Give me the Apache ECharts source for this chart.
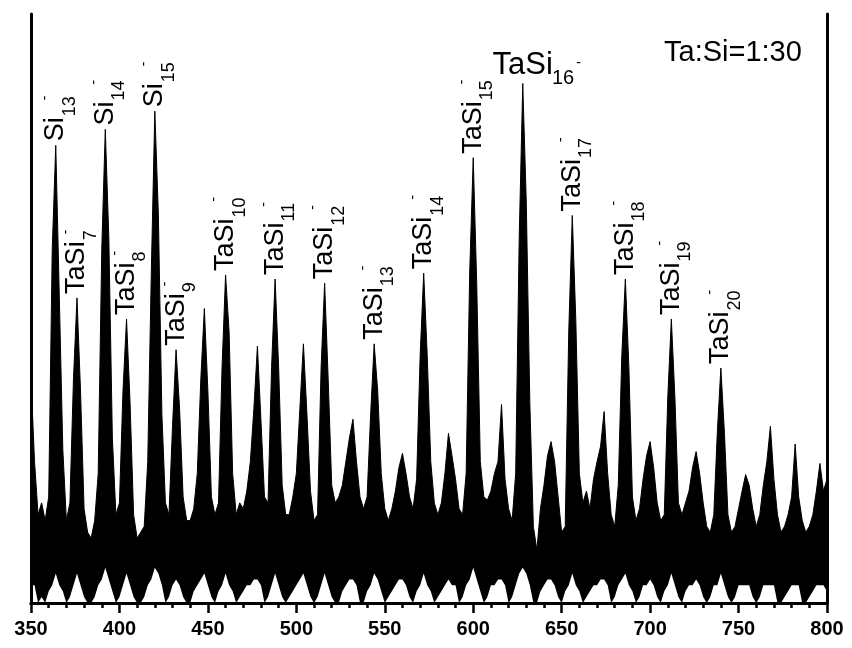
<!DOCTYPE html>
<html>
<head>
<meta charset="utf-8">
<script src="https://cdn.jsdelivr.net/npm/echarts@6/dist/echarts.min.js"></script>
<style>
html, body { margin: 0; padding: 0; background: #fff; }
#main { width: 852px; height: 648px; }
</style>
</head>
<body>
<div id="main"></div>
<script>
// mass axis: one sample every 2 units starting at 350
var massStart = 350;
var massStep = 2;

// upper edge of the noisy trace (intensity, 0-100)
var upper = [
  38, 24, 15, 17, 14, 18, 60, 77.7, 52, 26,
  14, 17, 38, 51.8, 36, 16, 12, 11, 14, 22,
  60, 80.4, 62, 28, 15, 17, 36, 48.2, 34, 15,
  11, 12, 13, 24, 56, 83.5, 66, 32, 17, 15,
  30, 43, 33, 18, 14, 14, 16, 22, 38, 50,
  36, 18, 15, 17, 40, 55.7, 46, 22, 15, 17,
  16, 19, 24, 33, 43.6, 31, 18, 17, 40, 55,
  40, 20, 15, 15, 18, 22, 33, 44, 32, 19,
  14, 15, 40, 54.3, 38, 20, 17, 18, 20, 24,
  28, 31.2, 24, 18, 16, 18, 32, 44, 36, 22,
  16, 14, 16, 19, 23, 25.4, 22, 18, 16, 21,
  42, 56, 42, 24, 17, 15, 17, 22, 28.8, 25,
  21, 16, 15, 22, 56, 75.6, 54, 24, 18, 17.5,
  19, 22, 24, 33.7, 21, 16, 14, 22, 62, 88.2,
  68, 34, 13, 9, 16, 20, 25, 27.4, 24, 18,
  12, 13, 46, 65.8, 48, 22, 17, 19, 16, 21,
  24, 26.6, 32.5, 22, 15, 13, 20, 42, 55, 40,
  18, 14, 16, 21, 25, 27.4, 23, 17, 14, 15,
  35, 48.2, 35, 17, 15, 17, 19, 23, 25.7, 22,
  17, 13, 12, 15, 29, 39.9, 29, 15, 12, 13,
  16, 19, 21.8, 20, 16, 13, 15, 20, 24, 30,
  21, 15, 12, 13, 15, 18, 27, 18, 14, 12,
  13, 15, 19, 23.7, 19, 21
];

// lower edge of the noisy trace
var lower = [
  3, 3, 0, 1, 0, 2, 3, 5, 3, 2,
  0, 1, 3, 5, 3, 1, 0, 0, 1, 3,
  4, 6, 4, 2, 0, 1, 3, 5, 3, 1,
  0, 0, 1, 3, 4, 6, 5, 3, 0, 1,
  3, 4, 3, 1, 0, 0, 2, 3, 4, 5,
  3, 1, 0, 2, 3, 5, 3, 2, 0, 1,
  2, 3, 3, 4, 4, 3, 0, 1, 3, 5,
  3, 1, 0, 1, 2, 3, 4, 5, 3, 1,
  0, 1, 3, 5, 3, 1, 0, 0, 2, 3,
  4, 4, 3, 0, 0, 2, 3, 5, 4, 2,
  0, 1, 2, 3, 4, 4, 3, 1, 0, 2,
  3, 5, 3, 2, 0, 1, 2, 3, 4, 3,
  3, 0, 1, 3, 4, 6, 4, 2, 0, 1,
  3, 3, 4, 4, 3, 0, 1, 3, 5, 6,
  5, 3, 0, 0, 2, 3, 4, 4, 3, 1,
  0, 2, 3, 5, 3, 2, 0, 1, 2, 3,
  3, 4, 4, 3, 0, 1, 3, 4, 5, 3,
  2, 0, 1, 3, 3, 4, 3, 1, 0, 2,
  3, 5, 3, 1, 0, 2, 3, 3, 4, 3,
  1, 0, 1, 3, 3, 5, 3, 1, 0, 1,
  3, 3, 3, 3, 1, 0, 1, 3, 3, 3,
  3, 0, 0, 1, 2, 3, 3, 3, 0, 0,
  1, 2, 3, 3, 3, 2
];

// peak labels
var labelMass = [364, 376, 392, 404, 420, 432, 460, 488, 516, 544, 572, 600, 628, 656, 686, 712, 740];
var labelMain = ['Si', 'TaSi', 'Si', 'TaSi', 'Si', 'TaSi', 'TaSi', 'TaSi', 'TaSi', 'TaSi', 'TaSi', 'TaSi', 'TaSi', 'TaSi', 'TaSi', 'TaSi', 'TaSi'];
var labelSub = ['13', '7', '14', '8', '15', '9', '10', '11', '12', '13', '14', '15', '16', '17', '18', '19', '20'];
var labelFlat = [628];
var ratioText = 'Ta:Si=1:30';

var FONT = '"Liberation Sans", Arial, sans-serif';

var upperData = [], lowerData = [];
for (var i = 0; i < upper.length; i++) {
  var m = massStart + i * massStep;
  upperData.push([m, upper[i]]);
  lowerData.push([m, lower[i]]);
}

var chart = echarts.init(document.getElementById('main'));

var frameLine = { color: '#000', width: 3 };

var option = {
  animation: false,
  grid: { left: 31, right: 25, top: 14, bottom: 45 },
  xAxis: [
    {
      type: 'value', min: 350, max: 800, interval: 50, z: 10,
      axisLine: { lineStyle: frameLine },
      axisTick: { length: 10, lineStyle: { color: '#000', width: 2.5 } },
      minorTick: { show: true, splitNumber: 5, length: 5, lineStyle: { color: '#000', width: 2.5 } },
      axisLabel: { color: '#000', fontSize: 20, fontWeight: 'bold', fontFamily: FONT, margin: 16 },
      splitLine: { show: false }
    },
    {
      type: 'value', position: 'top', min: 350, max: 800, interval: 50, z: 10,
      axisLine: { lineStyle: frameLine },
      axisTick: { inside: true, length: 3, lineStyle: { color: '#000', width: 1 } },
      minorTick: { show: true, splitNumber: 5, length: 3, lineStyle: { color: '#000', width: 1 } },
      axisLabel: { show: false },
      splitLine: { show: false }
    }
  ],
  yAxis: [
    {
      type: 'value', min: 0, max: 100, z: 10,
      axisLine: { show: true, lineStyle: frameLine },
      axisTick: { show: false }, axisLabel: { show: false }, splitLine: { show: false }
    },
    {
      type: 'value', position: 'right', min: 0, max: 100, z: 10,
      axisLine: { show: true, lineStyle: frameLine },
      axisTick: { show: false }, axisLabel: { show: false }, splitLine: { show: false }
    }
  ],
  series: [
    {
      // black body of the trace, down to the baseline
      type: 'line', data: upperData, z: 2,
      symbol: 'none', silent: true,
      lineStyle: { color: '#000', width: 1 },
      areaStyle: { color: '#000', opacity: 1 }
    },
    {
      // white gaps under the trace
      type: 'line', data: lowerData, z: 3,
      symbol: 'none', silent: true,
      lineStyle: { width: 0, opacity: 0 },
      areaStyle: { color: '#fff', opacity: 1 }
    }
  ]
};
chart.setOption(option);

// text widths for laying out subscripts
var ctx = document.createElement('canvas').getContext('2d');
function textWidth(s, size) {
  ctx.font = size + 'px ' + FONT;
  return ctx.measureText(s).width;
}

function txt(s, x, y, size, align) {
  return {
    type: 'text', x: x, y: y, silent: true, z: 100,
    style: {
      text: s, fill: '#000', font: size + 'px ' + FONT,
      textAlign: align || 'left', textVerticalAlign: 'middle'
    }
  };
}

var MAIN = 27, SUB = 18, FLAT = 31, FLAT_SUB = 20;
var graphics = [];
labelMass.forEach(function (m, k) {
  var v = upper[(m - massStart) / massStep];
  var p = chart.convertToPixel({ seriesIndex: 0 }, [m, v]);
  if (labelFlat.indexOf(m) >= 0) {
    var fw = textWidth(labelMain[k], FLAT);
    var fs = textWidth(labelSub[k], FLAT_SUB);
    graphics.push({
      type: 'group', x: p[0], y: p[1] - 6, z: 100,
      children: [
        txt(labelMain[k], -fw / 2, -12, FLAT),
        txt(labelSub[k], fw / 2 - 1, 1, FLAT_SUB),
        txt('-', fw / 2 + fs + 1, -14, 14)
      ]
    });
  } else {
    var mw = textWidth(labelMain[k], MAIN);
    var sw = textWidth(labelSub[k], SUB);
    graphics.push({
      type: 'group', x: p[0], y: p[1] - 4, rotation: Math.PI / 2, z: 100,
      children: [
        txt(labelMain[k], 0, 0, MAIN),
        txt(labelSub[k], mw + 1, 14, SUB),
        txt('-', mw + sw - 3, -11, 14)
      ]
    });
  }
});
graphics.push(txt(ratioText, 664, 53, 29));
chart.setOption({ graphic: graphics });
</script>
</body>
</html>
